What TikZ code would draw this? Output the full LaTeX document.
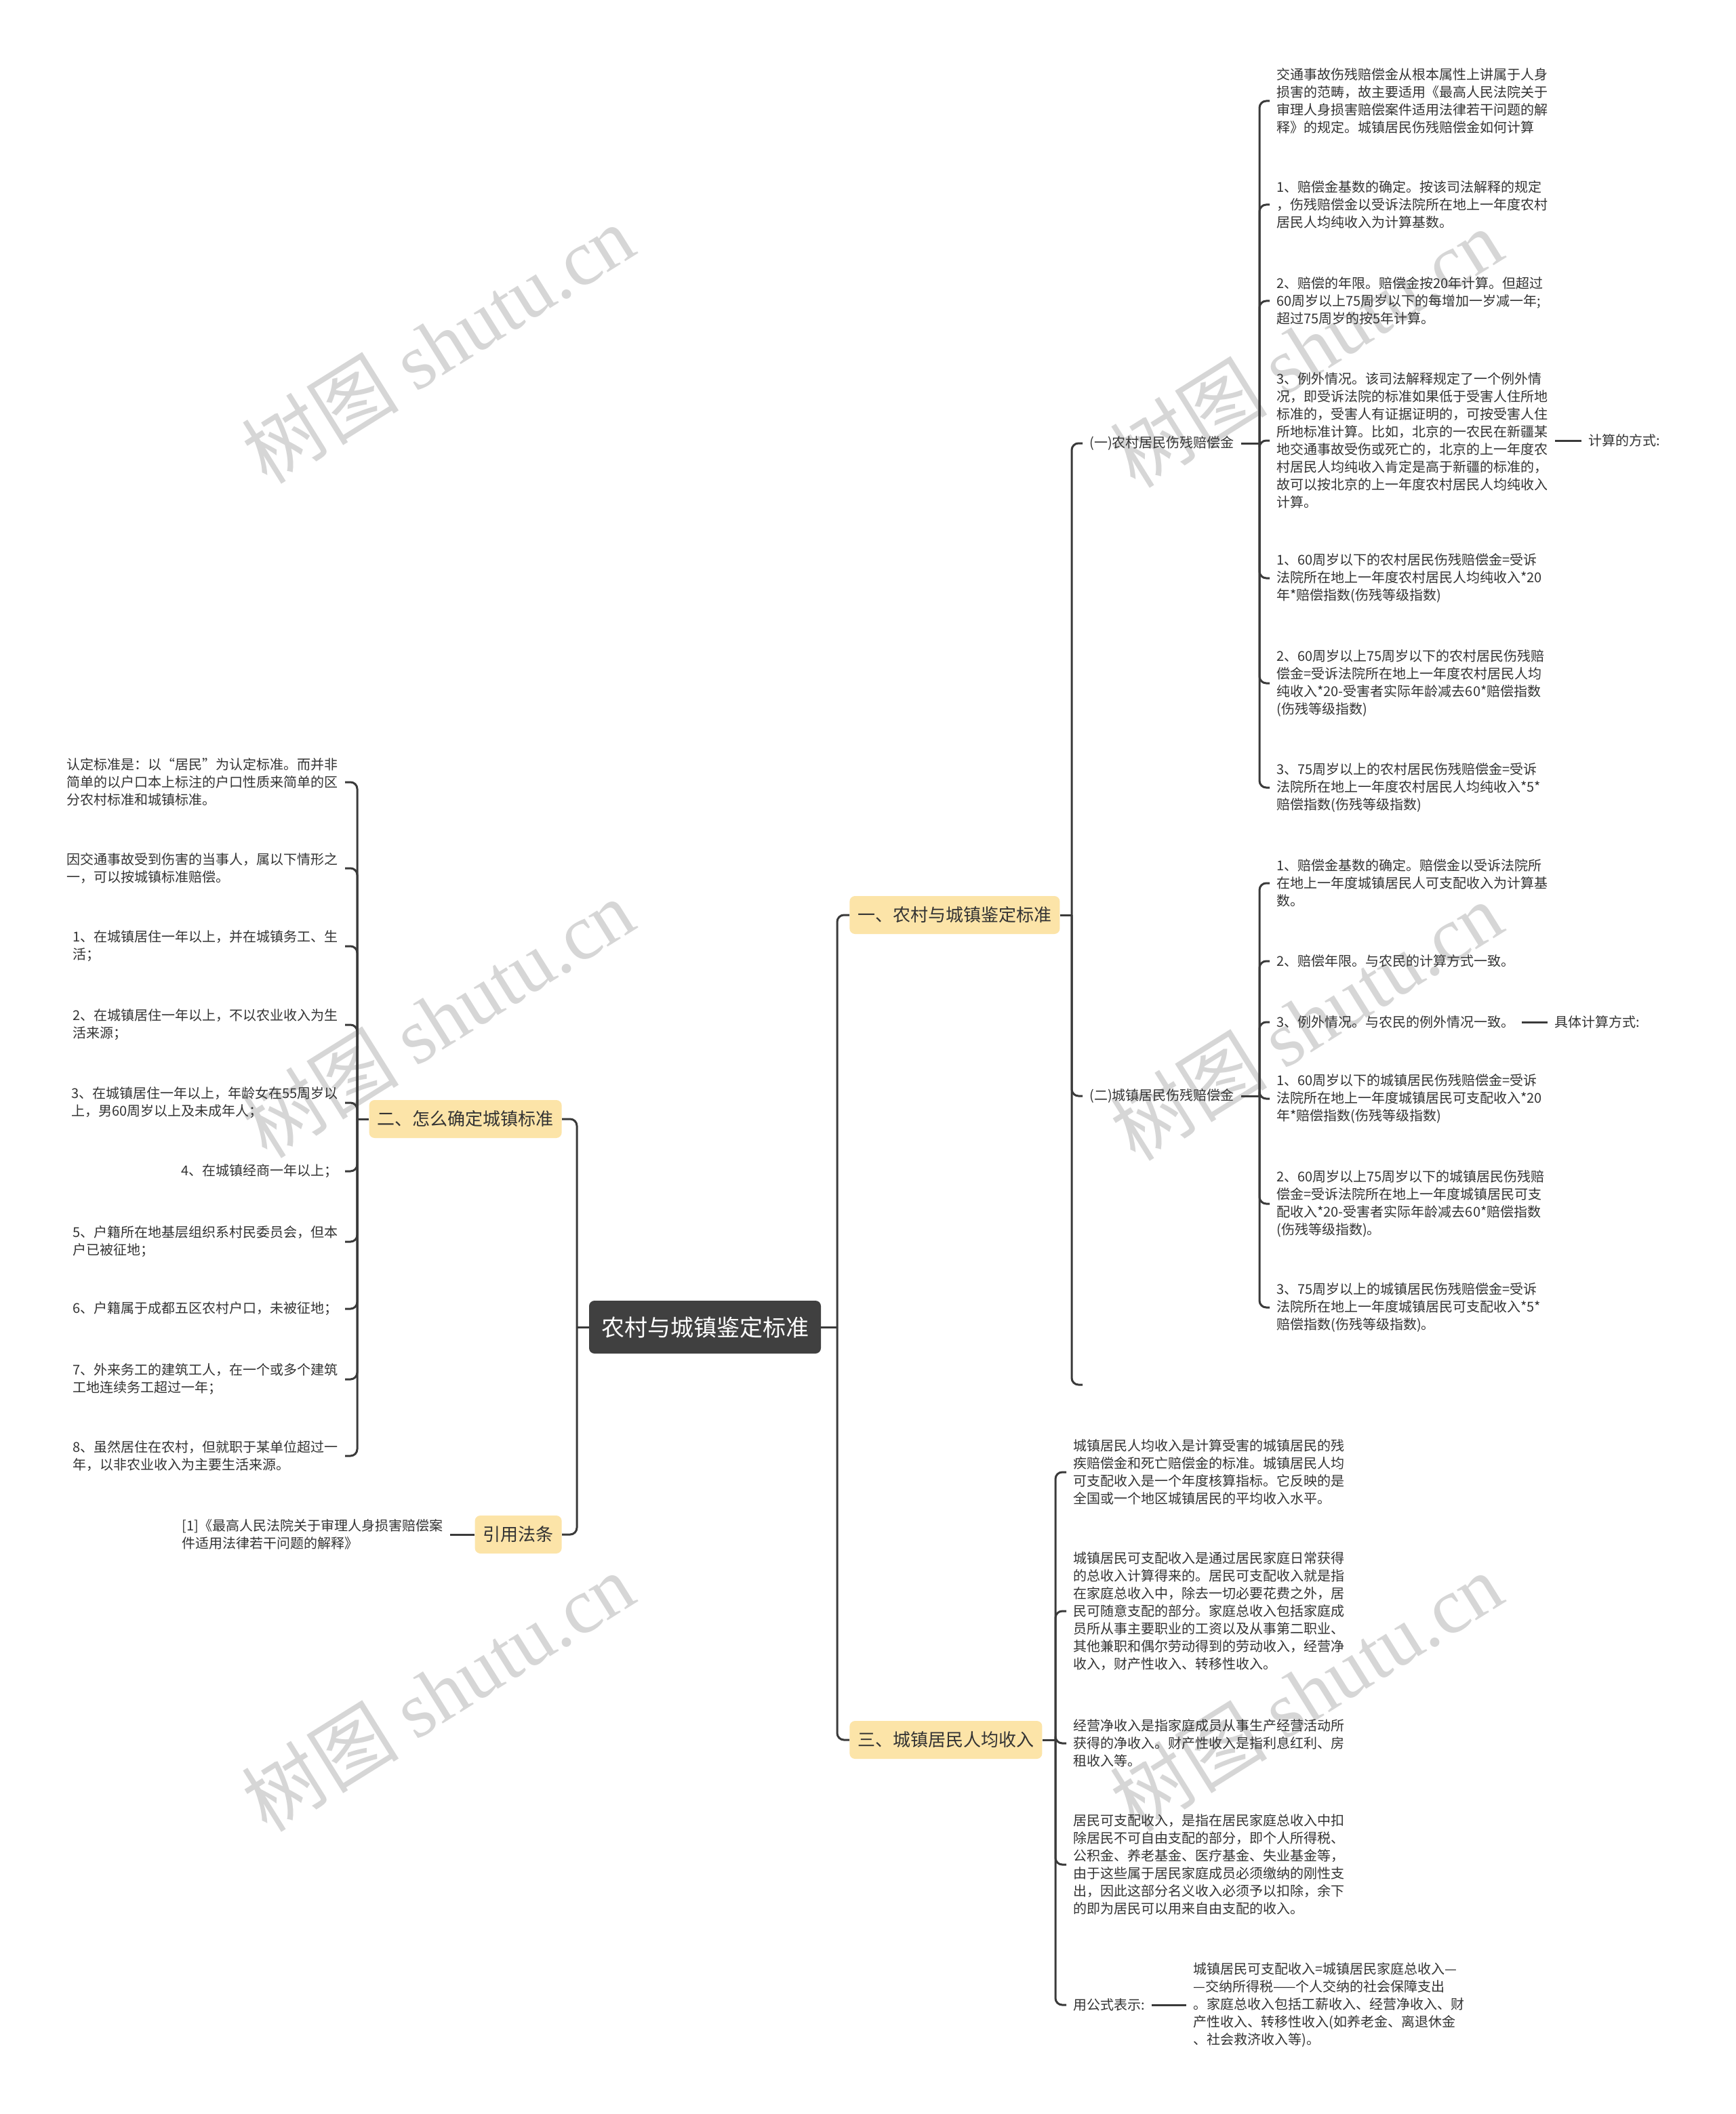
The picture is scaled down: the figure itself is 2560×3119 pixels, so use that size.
\documentclass[tikz,border=0pt]{standalone}
\usepackage{fontspec}
\setmainfont{Noto Sans CJK SC}
\newfontfamily\wmlatin{Liberation Serif}
\definecolor{rootfill}{HTML}{404040}
\definecolor{branchfill}{HTML}{FCE4A8}
\definecolor{linkcol}{HTML}{3A3A3A}
\definecolor{txtcol}{HTML}{333333}
\definecolor{wmcol}{HTML}{D6D6D6}
\begin{document}
\begin{tikzpicture}[x=0.5pt,y=-0.5pt,
  root/.style={fill=rootfill, text=white, rounded corners=4pt, font=\fontsize{17pt}{20pt}\selectfont, inner xsep=9pt, minimum height=39pt},
  branch/.style={fill=branchfill, text=txtcol, rounded corners=4pt, font=\fontsize{13pt}{16pt}\selectfont, inner xsep=6pt, minimum height=28pt},
  leaf/.style={text=txtcol, align=left, font=\fontsize{10pt}{13pt}\selectfont, inner xsep=5pt, inner ysep=2pt},
  link/.style={draw=linkcol, line width=1.5pt},
  hook/.style={link, rounded corners=5pt},
  wm/.style={text=wmcol, rotate=32, font=\fontsize{58pt}{60pt}\selectfont}]
\fill[white] (0,0) rectangle (2560,3119);
\useasboundingbox (0,0) rectangle (2560,3119);
\foreach \wx/\wy [count=\i] in {646/507, 646/1502, 646/2496, 1927/513, 1927/1506, 1927/2496}
  \node[wm] (wm\i) at (\wx,\wy) {树图 {\wmlatin shutu.cn}};

\node[root] (r) at (1040,1958) {农村与城镇鉴定标准};
\node[branch, anchor=west] (b1) at (1253,1350) {一、农村与城镇鉴定标准};
\node[branch, anchor=west] (b3) at (1253,2567) {三、城镇居民人均收入};
\node[branch, anchor=east] (b2) at (829,1651) {二、怎么确定城镇标准};
\node[branch, anchor=east] (b4) at (829,2264) {引用法条};

\node[leaf, anchor=west] (s1) at (1597,654) {(一)农村居民伤残赔偿金};
\node[leaf, anchor=west] (s2) at (1597,1617) {(二)城镇居民伤残赔偿金};
\coordinate (s3) at (1597,2043);

\node[leaf, anchor=west] (c1) at (1873,149) {交通事故伤残赔偿金从根本属性上讲属于人身\\损害的范畴，故主要适用《最高人民法院关于\\审理人身损害赔偿案件适用法律若干问题的解\\释》的规定。城镇居民伤残赔偿金如何计算};
\node[leaf, anchor=west] (c2) at (1873,302) {1、赔偿金基数的确定。按该司法解释的规定\\，伤残赔偿金以受诉法院所在地上一年度农村\\居民人均纯收入为计算基数。};
\node[leaf, anchor=west] (c3) at (1873,444) {2、赔偿的年限。赔偿金按20年计算。但超过\\60周岁以上75周岁以下的每增加一岁减一年;\\超过75周岁的按5年计算。};
\node[leaf, anchor=west] (c4) at (1873,650) {3、例外情况。该司法解释规定了一个例外情\\况，即受诉法院的标准如果低于受害人住所地\\标准的，受害人有证据证明的，可按受害人住\\所地标准计算。比如，北京的一农民在新疆某\\地交通事故受伤或死亡的，北京的上一年度农\\村居民人均纯收入肯定是高于新疆的标准的，\\故可以按北京的上一年度农村居民人均纯收入\\计算。};
\node[leaf, anchor=west] (c4b) at (2333,650) {计算的方式:};
\node[leaf, anchor=west] (c5) at (1873,853) {1、60周岁以下的农村居民伤残赔偿金=受诉\\法院所在地上一年度农村居民人均纯收入*20\\年*赔偿指数(伤残等级指数)};
\node[leaf, anchor=west] (c6) at (1873,1008) {2、60周岁以上75周岁以下的农村居民伤残赔\\偿金=受诉法院所在地上一年度农村居民人均\\纯收入*20-受害者实际年龄减去60*赔偿指数\\(伤残等级指数)};
\node[leaf, anchor=west] (c7) at (1873,1162) {3、75周岁以上的农村居民伤残赔偿金=受诉\\法院所在地上一年度农村居民人均纯收入*5*\\赔偿指数(伤残等级指数)};

\node[leaf, anchor=west] (d1) at (1873,1303) {1、赔偿金基数的确定。赔偿金以受诉法院所\\在地上一年度城镇居民人可支配收入为计算基\\数。};
\node[leaf, anchor=west] (d2) at (1873,1418) {2、赔偿年限。与农民的计算方式一致。};
\node[leaf, anchor=west] (d3) at (1873,1508) {3、例外情况。与农民的例外情况一致。};
\node[leaf, anchor=west] (d3b) at (2283,1508) {具体计算方式:};
\node[leaf, anchor=west] (d4) at (1873,1621) {1、60周岁以下的城镇居民伤残赔偿金=受诉\\法院所在地上一年度城镇居民可支配收入*20\\年*赔偿指数(伤残等级指数)};
\node[leaf, anchor=west] (d5) at (1873,1776) {2、60周岁以上75周岁以下的城镇居民伤残赔\\偿金=受诉法院所在地上一年度城镇居民可支\\配收入*20-受害者实际年龄减去60*赔偿指数\\(伤残等级指数)。};
\node[leaf, anchor=west] (d6) at (1873,1929) {3、75周岁以上的城镇居民伤残赔偿金=受诉\\法院所在地上一年度城镇居民可支配收入*5*\\赔偿指数(伤残等级指数)。};

\node[leaf, anchor=west] (e1) at (1573,2172) {城镇居民人均收入是计算受害的城镇居民的残\\疾赔偿金和死亡赔偿金的标准。城镇居民人均\\可支配收入是一个年度核算指标。它反映的是\\全国或一个地区城镇居民的平均收入水平。};
\node[leaf, anchor=west] (e2) at (1573,2377) {城镇居民可支配收入是通过居民家庭日常获得\\的总收入计算得来的。居民可支配收入就是指\\在家庭总收入中，除去一切必要花费之外，居\\民可随意支配的部分。家庭总收入包括家庭成\\员所从事主要职业的工资以及从事第二职业、\\其他兼职和偶尔劳动得到的劳动收入，经营净\\收入，财产性收入、转移性收入。};
\node[leaf, anchor=west] (e3) at (1573,2572) {经营净收入是指家庭成员从事生产经营活动所\\获得的净收入。财产性收入是指利息红利、房\\租收入等。};
\node[leaf, anchor=west] (e4) at (1573,2751) {居民可支配收入，是指在居民家庭总收入中扣\\除居民不可自由支配的部分，即个人所得税、\\公积金、养老基金、医疗基金、失业基金等，\\由于这些属于居民家庭成员必须缴纳的刚性支\\出，因此这部分名义收入必须予以扣除，余下\\的即为居民可以用来自由支配的收入。};
\node[leaf, anchor=west] (e5) at (1573,2958) {用公式表示:};
\node[leaf, anchor=west] (e5b) at (1750,2958) {城镇居民可支配收入=城镇居民家庭总收入—\\—交纳所得税——个人交纳的社会保障支出\\。家庭总收入包括工薪收入、经营净收入、财\\产性收入、转移性收入(如养老金、离退休金\\、社会救济收入等)。};

\node[leaf, anchor=east] (f1) at (509,1154) {认定标准是：以“居民”为认定标准。而并非\\简单的以户口本上标注的户口性质来简单的区\\分农村标准和城镇标准。};
\node[leaf, anchor=east] (f2) at (509,1281) {因交通事故受到伤害的当事人，属以下情形之\\一，可以按城镇标准赔偿。};
\node[leaf, anchor=east] (f3) at (509,1396) {1、在城镇居住一年以上，并在城镇务工、生\\活；};
\node[leaf, anchor=east] (f4) at (509,1512) {2、在城镇居住一年以上，不以农业收入为生\\活来源；};
\node[leaf, anchor=east] (f5) at (509,1627) {3、在城镇居住一年以上，年龄女在55周岁以\\上，男60周岁以上及未成年人；};
\node[leaf, anchor=east] (f6) at (509,1728) {4、在城镇经商一年以上；};
\node[leaf, anchor=east] (f7) at (509,1832) {5、户籍所在地基层组织系村民委员会，但本\\户已被征地；};
\node[leaf, anchor=east] (f8) at (509,1931) {6、户籍属于成都五区农村户口，未被征地；};
\node[leaf, anchor=east] (f9) at (509,2035) {7、外来务工的建筑工人，在一个或多个建筑\\工地连续务工超过一年；};
\node[leaf, anchor=east] (f10) at (509,2148) {8、虽然居住在农村，但就职于某单位超过一\\年，以非农业收入为主要生活来源。};
\node[leaf, anchor=east] (rf) at (664,2264) {[1]《最高人民法院关于审理人身损害赔偿案\\件适用法律若干问题的解释》};

\draw[link] (r.east) -- (1235,1958);
\foreach \n in {b1,b3} \draw[hook] (1235,1958) |- (\n.west);
\draw[link] (r.west) -- (851,1958);
\foreach \n in {b2,b4} \draw[hook] (851,1958) |- (\n.east);

\draw[link] (b1.east) -- (1581,1350);
\foreach \n in {s1,s2} \draw[hook] (1581,1350) |- (\n.west);
\draw[hook] (1581,1350) |- (s3);

\draw[link] (s1.east) -- (1858,654);
\foreach \n in {c1,c2,c3,c4,c5,c6,c7} \draw[hook] (1858,654) |- (\n.west);
\draw[link] (c4.east) -- (c4b.west);

\draw[link] (s2.east) -- (1858,1617);
\foreach \n in {d1,d2,d3,d4,d5,d6} \draw[hook] (1858,1617) |- (\n.west);
\draw[link] (d3.east) -- (d3b.west);

\draw[link] (b3.east) -- (1557,2567);
\foreach \n in {e1,e2,e3,e4,e5} \draw[hook] (1557,2567) |- (\n.west);
\draw[link] (e5.east) -- (e5b.west);

\draw[link] (b2.west) -- (527,1651);
\foreach \n in {f1,f2,f3,f4,f5,f6,f7,f8,f9,f10} \draw[hook] (527,1651) |- (\n.east);
\draw[link] (b4.west) -- (rf.east);
\end{tikzpicture}
\end{document}
